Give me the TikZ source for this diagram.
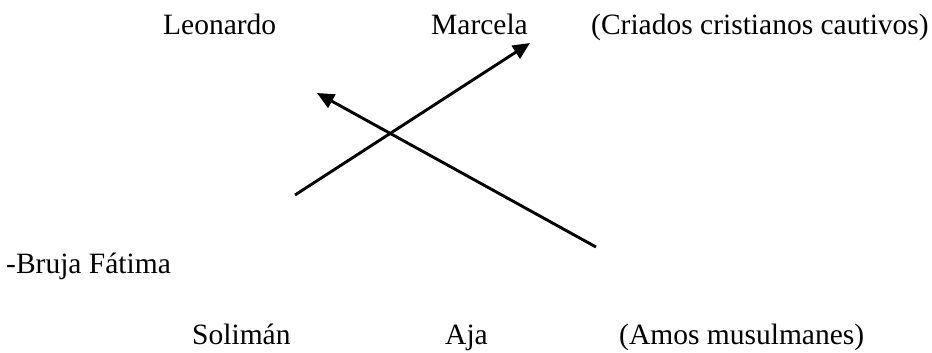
\documentclass[tikz,border=0pt]{standalone}
\usepackage{fontspec}
\setmainfont{Liberation Serif}
\usetikzlibrary{arrows.meta}
\begin{document}
\begin{tikzpicture}[x=1pt,y=-1pt,
  lbl/.style={anchor=base west,inner sep=0pt,font=\fontsize{29.5}{35}\selectfont},
  arr/.style={line width=2.9pt,-{Triangle[length=17pt,width=15pt]}}]
\useasboundingbox (0,0) rectangle (932,353);
\node[lbl] (leo) at (163,35) {Leonardo};
\node[lbl] (mar) at (431,35) {Marcela};
\node[lbl] (cri) at (591,35) {(Criados cristianos cautivos)};
\node[lbl] (bru) at (6,273) {-Bruja Fátima};
\node[lbl] (sol) at (192,344) {Solimán};
\node[lbl] (aja) at (445,344) {Aja};
\node[lbl] (amo) at (619,344) {(Amos musulmanes)};
\coordinate (a1s) at (295,195);
\coordinate (a1e) at (530,43);
\coordinate (a2s) at (596,247);
\coordinate (a2e) at (317,93);
\draw[arr] (a1s) -- (a1e);
\draw[arr] (a2s) -- (a2e);
\end{tikzpicture}
\end{document}
